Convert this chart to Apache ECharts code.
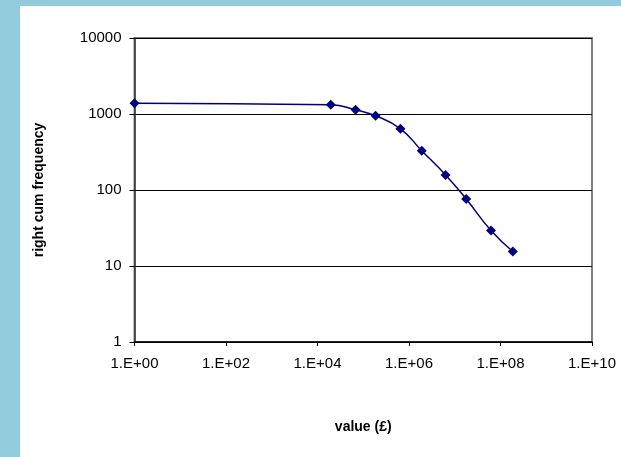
<!DOCTYPE html>
<html>
<head>
<meta charset="utf-8">
<script src="https://cdn.jsdelivr.net/npm/echarts@6/dist/echarts.min.js"></script>
<style>
html,body{margin:0;padding:0;background:#fff;}
#c{width:621px;height:457px;}
</style>
</head>
<body>
<div id="c"></div>
<script>
// Data
var xValues = [1, 1.95e4, 6.8e4, 1.86e5, 6.5e5, 1.9e6, 6.3e6, 1.78e7, 6.2e7, 1.86e8];
var yValues = [1390, 1320, 1135, 947, 639, 328, 158, 76, 29.3, 15.5];
var xTitle = 'value (£)';
var yTitle = 'right cum frequency';

var chart = echarts.init(document.getElementById('c'), null, {renderer: 'canvas'});
var pts = xValues.map(function (x, i) { return [x, yValues[i]]; });
var font = '"Liberation Sans", Arial, sans-serif';

chart.setOption({
  backgroundColor: '#ffffff',
  animation: false,
  graphic: [
    {type: 'rect', left: 0, top: 0, shape: {width: 20, height: 457}, style: {fill: '#93CDDD'}, z: -10},
    {type: 'rect', left: 0, top: 0, shape: {width: 621, height: 6}, style: {fill: '#93CDDD'}, z: -10}
  ],
  grid: {left: 134.5, top: 38, right: 29, bottom: 115, show: true, borderColor: '#808080', borderWidth: 2, backgroundColor: 'transparent'},
  xAxis: {
    type: 'log', logBase: 10, min: 1, max: 1e10, interval: 2,
    name: xTitle, nameLocation: 'middle', nameGap: 78,
    nameTextStyle: {fontFamily: font, fontWeight: 'bold', fontSize: 14, color: '#000'},
    axisLine: {lineStyle: {color: '#000', width: 1.5}},
    axisTick: {show: true, inside: false, length: 4, lineStyle: {color: '#000'}},
    axisLabel: {fontFamily: font, fontSize: 15, color: '#000', margin: 14,
      formatter: function (v) { var e = Math.round(Math.log10(v)); return '1.E+' + (e < 10 ? '0' + e : e); }},
    splitLine: {show: false}
  },
  yAxis: {
    type: 'log', logBase: 10, min: 1, max: 10000, interval: 1,
    name: yTitle, nameLocation: 'middle', nameGap: 88,
    nameTextStyle: {fontFamily: font, fontWeight: 'bold', fontSize: 14, color: '#000'},
    axisLine: {show: true, lineStyle: {color: '#333', width: 1.5}},
    axisTick: {show: true, inside: false, length: 5, lineStyle: {color: '#000'}},
    axisLabel: {fontFamily: font, fontSize: 15, color: '#000', margin: 13,
      formatter: function (v) { return String(Math.round(v)); }},
    splitLine: {show: true, lineStyle: {color: '#000', width: 1}}
  },
  series: [{
    type: 'line', data: pts, smooth: 0.5,
    symbol: 'diamond', symbolSize: 10,
    lineStyle: {color: '#000080', width: 1.5},
    itemStyle: {color: '#000080'},
    clip: false
  }]
});
</script>
</body>
</html>
